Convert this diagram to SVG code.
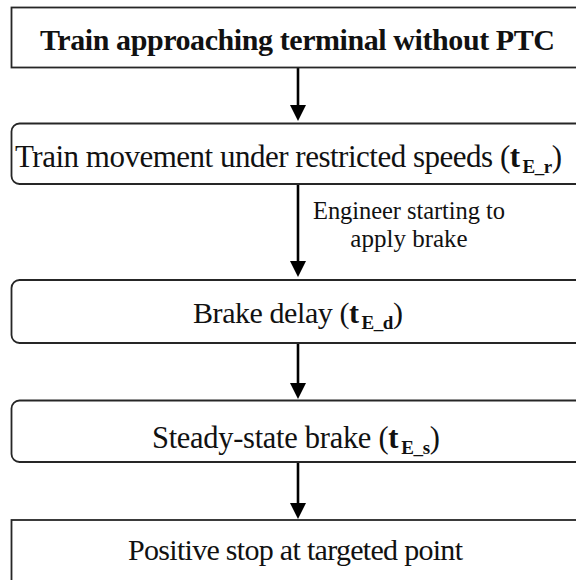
<svg xmlns="http://www.w3.org/2000/svg" width="576" height="580" viewBox="0 0 576 580">
<defs>
<style>
.box{fill:#fff;stroke:#262626;stroke-width:1.8}
.t{font-family:"Liberation Serif","Times New Roman",serif;fill:#111;text-anchor:middle}
.b{font-weight:bold}
.sub{font-weight:bold;font-size:19px}
.conn line{stroke:#000;stroke-width:2.6;marker-end:url(#ah)}
</style>
<marker id="ah" viewBox="0 0 16 16" markerWidth="16" markerHeight="16" refX="6" refY="8" orient="auto" markerUnits="userSpaceOnUse">
<path d="M0,0 L16,8 L0,16 Z" fill="#000"/>
</marker>
</defs>
<rect width="576" height="580" fill="#fff"/>
<g id="connectors" class="conn">
<line x1="298" y1="68" x2="298" y2="111"/>
<line x1="298" y1="184" x2="298" y2="267"/>
<line x1="298" y1="343" x2="298" y2="389"/>
<line x1="298" y1="462" x2="298" y2="509"/>
</g>
<g id="edge-label">
<text class="t" x="409" y="219" font-size="24.5" textLength="192">Engineer starting to</text>
<text class="t" x="409" y="247" font-size="25">apply brake</text>
</g>
<g id="n1">
<rect class="box" x="11.5" y="7.5" width="590" height="60"/>
<text class="t b" x="297.5" y="50" font-size="30" textLength="515">Train approaching terminal without PTC</text>
</g>
<g id="n2">
<rect class="box" x="11.5" y="123.5" width="590" height="60.5" rx="8"/>
<text class="t" x="288.5" y="166.5" font-size="31" textLength="547">Train movement under restricted speeds (<tspan class="b">t</tspan><tspan class="sub" dx="3" dy="6">E_r</tspan><tspan dy="-6">)</tspan></text>
</g>
<g id="n3">
<rect class="box" x="11.5" y="280" width="590" height="63" rx="8"/>
<text class="t" x="298" y="323" font-size="30" textLength="210">Brake delay (<tspan class="b">t</tspan><tspan class="sub" dx="3" dy="6">E_d</tspan><tspan dy="-6">)</tspan></text>
</g>
<g id="n4">
<rect class="box" x="11.5" y="400.5" width="590" height="61.5" rx="8"/>
<text class="t" x="296" y="448" font-size="30.5" textLength="288">Steady-state brake (<tspan class="b">t</tspan><tspan class="sub" dx="3" dy="6">E_s</tspan><tspan dy="-6">)</tspan></text>
</g>
<g id="n5">
<rect class="box" x="11.5" y="520" width="590" height="80"/>
<text class="t" x="295.5" y="560" font-size="30" textLength="335">Positive stop at targeted point</text>
</g>
</svg>
